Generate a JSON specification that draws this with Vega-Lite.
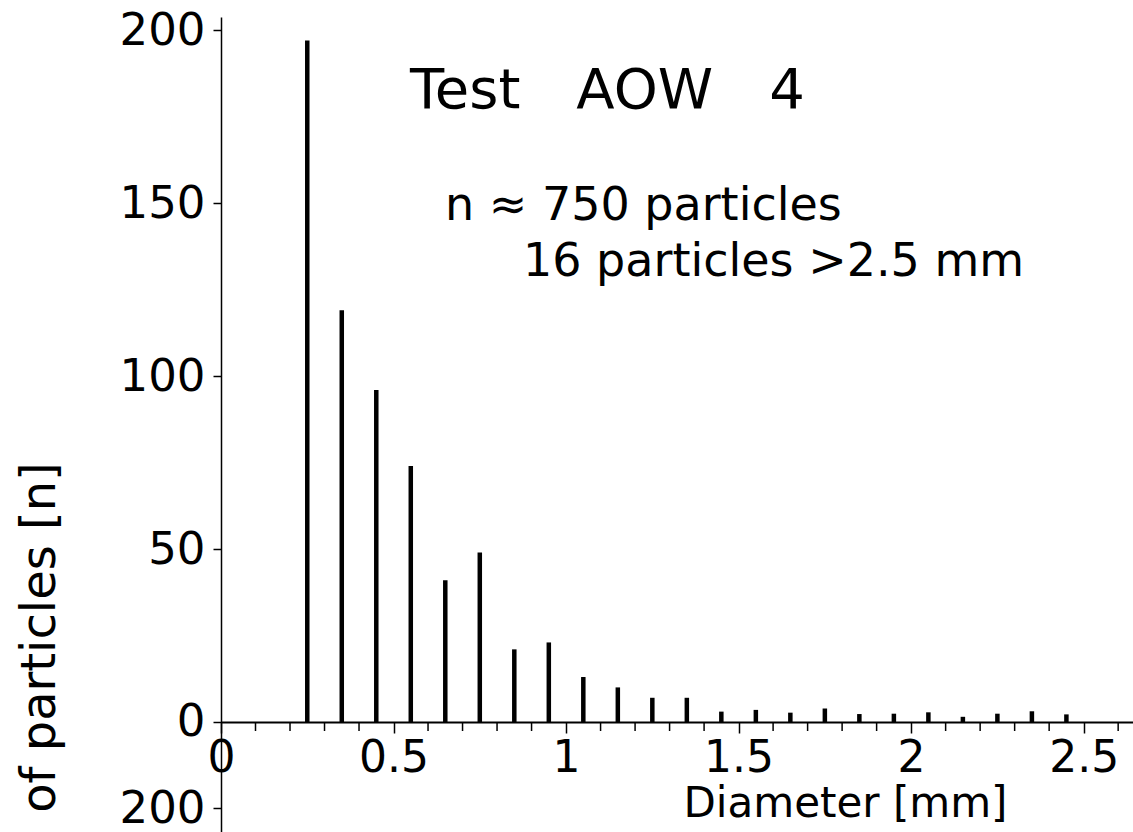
{
  "$schema": "https://vega.github.io/schema/vega-lite/v6.json",
  "width": 912,
  "height": 815,
  "autosize": {"type": "none"},
  "padding": {"left": 221, "top": 17, "right": 0, "bottom": 0},
  "background": "white",
  "config": {"view": {"stroke": null}, "font": "DejaVu Sans", "axisX": {"labelOverlap": false}, "axisY": {"labelOverlap": false}},
  "datasets": {
    "bars": [
      {"diameter": 0.25, "count": 197},
      {"diameter": 0.35, "count": 119},
      {"diameter": 0.45, "count": 96},
      {"diameter": 0.55, "count": 74},
      {"diameter": 0.65, "count": 41},
      {"diameter": 0.75, "count": 49},
      {"diameter": 0.85, "count": 21},
      {"diameter": 0.95, "count": 23},
      {"diameter": 1.05, "count": 13},
      {"diameter": 1.15, "count": 10},
      {"diameter": 1.25, "count": 7},
      {"diameter": 1.35, "count": 7},
      {"diameter": 1.45, "count": 3},
      {"diameter": 1.55, "count": 3.5},
      {"diameter": 1.65, "count": 2.7},
      {"diameter": 1.75, "count": 3.9},
      {"diameter": 1.85, "count": 2.3},
      {"diameter": 1.95, "count": 2.4},
      {"diameter": 2.05, "count": 2.8},
      {"diameter": 2.15, "count": 1.5},
      {"diameter": 2.25, "count": 2.4},
      {"diameter": 2.35, "count": 3.1},
      {"diameter": 2.45, "count": 2.2}
    ],
    "minor": [
      {"tick": 0.1}, {"tick": 0.2}, {"tick": 0.3}, {"tick": 0.4},
      {"tick": 0.6}, {"tick": 0.7}, {"tick": 0.8}, {"tick": 0.9},
      {"tick": 1.1}, {"tick": 1.2}, {"tick": 1.3}, {"tick": 1.4},
      {"tick": 1.6}, {"tick": 1.7}, {"tick": 1.8}, {"tick": 1.9},
      {"tick": 2.1}, {"tick": 2.2}, {"tick": 2.3}, {"tick": 2.4},
      {"tick": 2.6}
    ],
    "notes": [
      {"x": 0.548, "y": 177.5, "label": "Test\u2003AOW\u20034", "kind": "title"},
      {"x": 0.649, "y": 145, "label": "n ≈ 750 particles", "kind": "sub"},
      {"x": 0.875, "y": 129, "label": "16 particles >2.5 mm", "kind": "sub"}
    ]
  },
  "layer": [
    {
      "data": {"name": "bars"},
      "mark": {"type": "rule", "color": "black", "strokeWidth": 4.5},
      "encoding": {
        "x": {
          "field": "diameter",
          "type": "quantitative",
          "scale": {"domain": [0, 2.643], "nice": false, "zero": false},
          "axis": {
            "orient": "bottom",
            "offset": -110,
            "values": [0, 0.5, 1, 1.5, 2, 2.5],
            "format": "~g",
            "grid": false,
            "domainColor": "black",
            "domainWidth": 2,
            "tickColor": "black",
            "tickWidth": 1.5,
            "tickSize": 11,
            "labelFont": "DejaVu Sans",
            "labelFontSize": 44,
            "labelColor": "black",
            "labelPadding": 3,
            "labelFlush": false,
            "labelOverlap": false,
            "title": "Diameter [mm]",
            "titleFont": "DejaVu Sans",
            "titleFontSize": 42,
            "titleFontWeight": "normal",
            "titleColor": "black",
            "titleX": 624,
            "titleY": 81,
            "titleAlign": "center",
            "titleBaseline": "middle"
          }
        },
        "y": {
          "field": "count",
          "type": "quantitative",
          "scale": {"domain": [-31.8, 203.8], "nice": false, "zero": false},
          "axis": {
            "values": [-25, 0, 50, 100, 150, 200],
            "labelExpr": "datum.value < 0 ? '200' : format(datum.value, '~g')",
            "grid": false,
            "domainColor": "black",
            "domainWidth": 1.5,
            "tickColor": "black",
            "tickWidth": 1.5,
            "tickSize": 8,
            "labelFont": "DejaVu Sans",
            "labelFontSize": 45,
            "labelColor": "black",
            "labelPadding": 8,
            "labelFlush": false,
            "labelOverlap": false,
            "title": "of particles [n]",
            "titleFont": "DejaVu Sans",
            "titleFontSize": 48,
            "titleFontWeight": "normal",
            "titleColor": "black",
            "titleAngle": -90,
            "titleX": -181,
            "titleY": 620,
            "titleAlign": "center",
            "titleBaseline": "middle"
          }
        },
        "y2": {"datum": 0}
      }
    },
    {
      "data": {"name": "minor"},
      "mark": {"type": "rule", "color": "black", "strokeWidth": 1.5},
      "encoding": {
        "x": {"field": "tick", "type": "quantitative"},
        "y": {"datum": 0},
        "y2": {"datum": -2.6}
      }
    },
    {
      "data": {"name": "notes"},
      "transform": [{"filter": "datum.kind == 'title'"}],
      "mark": {"type": "text", "align": "left", "baseline": "alphabetic", "fontSize": 56, "font": "DejaVu Sans", "color": "black"},
      "encoding": {
        "x": {"field": "x", "type": "quantitative"},
        "y": {"field": "y", "type": "quantitative"},
        "text": {"field": "label"}
      }
    },
    {
      "data": {"name": "notes"},
      "transform": [{"filter": "datum.kind == 'sub'"}],
      "mark": {"type": "text", "align": "left", "baseline": "alphabetic", "fontSize": 46, "font": "DejaVu Sans", "color": "black"},
      "encoding": {
        "x": {"field": "x", "type": "quantitative"},
        "y": {"field": "y", "type": "quantitative"},
        "text": {"field": "label"}
      }
    }
  ]
}
